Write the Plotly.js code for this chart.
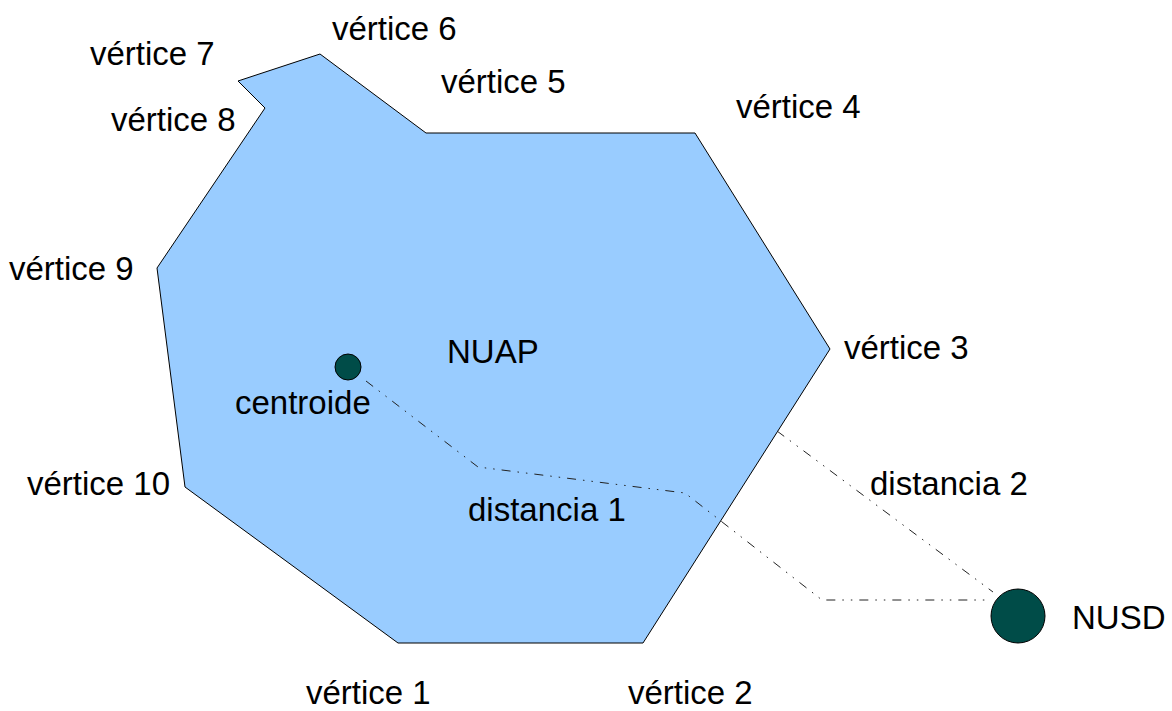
<!DOCTYPE html>
<html>
<head>
<meta charset="utf-8">
<script src="https://cdn.plot.ly/plotly-3.0.1.min.js"></script>
<style>html,body{margin:0;padding:0;background:#fff;}#chart{width:1172px;height:711px;}</style>
</head>
<body>
<div id="chart"></div>
<script>
// Polygon NUAP vertices (vértice 1 .. vértice 10), diagram coordinates
const vertexX = [398, 643, 830, 695, 426, 320, 238, 265, 157, 185];
const vertexY = [643, 643, 349, 133, 133, 54, 81, 108, 268, 487];

// Points
const centroidX = [348];
const centroidY = [367];
const nusdX = [1018];
const nusdY = [616];

// Distance paths
const dist1X = [366, 478, 685, 822, 988];
const dist1Y = [381, 467, 493, 600, 600];
const dist2X = [777, 993];
const dist2Y = [431, 592];

// Labels (left edge x, baseline y)
const labelText = ["vértice 1","vértice 2","vértice 3","vértice 4","vértice 5","vértice 6","vértice 7","vértice 8","vértice 9","vértice 10","NUAP","centroide","distancia 1","distancia 2","NUSD"];
const labelX = [307, 629, 845, 737, 442, 333, 91, 112, 10, 28, 448, 236, 469, 871, 1073];
const labelBase = [703, 703, 358, 117, 92, 39, 64, 130, 279, 494, 362, 413, 520, 494, 628];

const dashStyle = "9px,7px,1.5px,7px,1.5px,7px";
const fontSize = 33;

const traces = [
  {
    x: vertexX.concat([vertexX[0]]),
    y: vertexY.concat([vertexY[0]]),
    mode: "lines",
    fill: "toself",
    fillcolor: "#99ccff",
    line: {color: "#000000", width: 1},
    hoverinfo: "skip"
  },
  {
    x: dist1X, y: dist1Y, mode: "lines",
    line: {color: "#222222", width: 1, dash: dashStyle},
    hoverinfo: "skip"
  },
  {
    x: dist2X, y: dist2Y, mode: "lines",
    line: {color: "#222222", width: 1, dash: dashStyle},
    hoverinfo: "skip"
  },
  {
    x: centroidX, y: centroidY, mode: "markers",
    marker: {size: 26, color: "#004c48", line: {color: "#000000", width: 1}},
    hoverinfo: "skip"
  },
  {
    x: nusdX, y: nusdY, mode: "markers",
    marker: {size: 54, color: "#004c48", line: {color: "#000000", width: 1}},
    hoverinfo: "skip"
  }
];

const annotations = labelText.map((t, i) => ({
  x: labelX[i] - 2, y: labelBase[i] - 11, xref: "x", yref: "y",
  text: t, showarrow: false, xanchor: "left", yanchor: "middle",
  borderpad: 0,
  font: {family: "Liberation Sans, Arial, sans-serif", size: fontSize, color: "#000000"}
}));

const layout = {
  width: 1172, height: 711,
  margin: {l: 0, r: 0, t: 0, b: 0, pad: 0},
  paper_bgcolor: "#ffffff", plot_bgcolor: "#ffffff",
  showlegend: false,
  xaxis: {range: [0, 1172], visible: false, fixedrange: true},
  yaxis: {range: [711, 0], visible: false, fixedrange: true},
  annotations: annotations
};

Plotly.newPlot("chart", traces, layout, {staticPlot: true, displayModeBar: false});
</script>
</body>
</html>
